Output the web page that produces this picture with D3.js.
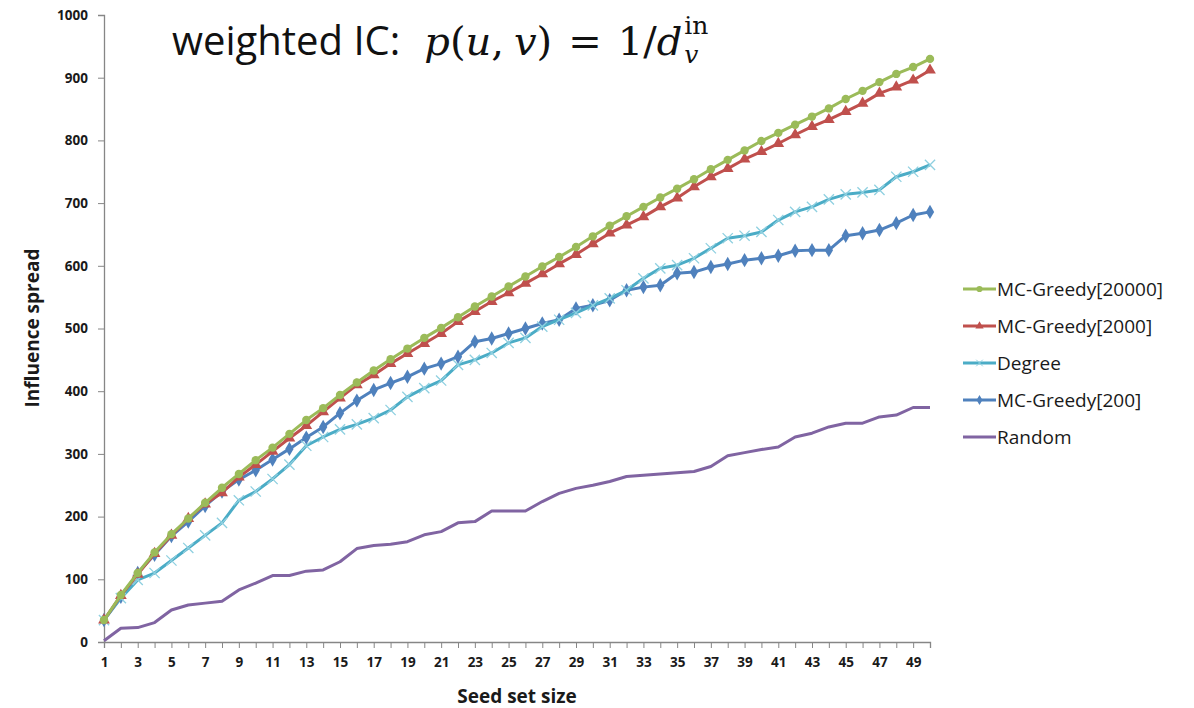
<!DOCTYPE html>
<html>
<head>
<meta charset="utf-8">
<script src="https://cdn.jsdelivr.net/npm/d3@7"></script>
<style>
  body { margin: 0; background: #fff; }
  .tick text { font-family: "Open Sans", sans-serif; font-weight: bold; font-size: 13.5px; fill: #1a1a1a; }
  .domain, .tick line { stroke: #868686; }
</style>
</head>
<body>
<script>
// values
const seeds = d3.range(1, 51);
const greedy20000 = [35, 75, 110, 143, 172, 197, 222, 246, 268, 290, 310, 332, 354, 373, 394, 414, 433, 451, 468, 485,
  501, 518, 535, 551, 567, 583, 599, 614, 630, 647, 664, 679, 694, 709, 723, 738, 754, 769, 784, 799,
  812, 825, 838, 851, 866, 879, 893, 906, 917, 930];
const greedy2000 = [35, 74, 108, 141, 170, 197, 220, 238, 263, 283, 304, 325, 345, 367, 389, 410, 426, 444, 460, 476,
  492, 511, 527, 543, 557, 572, 587, 603, 618, 635, 652, 665, 678, 694, 708, 726, 742, 755, 770, 782,
  795, 809, 822, 833, 846, 859, 875, 885, 896, 912];
const degree = [35, 70, 99, 110, 130, 150, 170, 190, 226, 240, 260, 283, 313, 327, 339, 347, 357, 370, 391, 405,
  417, 442, 450, 461, 477, 485, 503, 514, 525, 537, 548, 561, 580, 596, 601, 612, 628, 644, 648, 654,
  673, 686, 694, 706, 714, 717, 721, 742, 750, 761];
const greedy200 = [35, 72, 110, 139, 169, 192, 217, 240, 259, 274, 291, 308, 326, 343, 365, 385, 402, 413, 423, 436,
  444, 455, 479, 484, 492, 500, 508, 514, 532, 537, 545, 561, 566, 569, 588, 590, 598, 603, 609, 612,
  616, 624, 625, 625, 648, 652, 657, 668, 681, 686];
const random = [2, 22, 23, 31, 51, 59, 62, 65, 83, 94, 106, 106, 113, 115, 128, 149, 154, 156, 160, 171,
  176, 190, 192, 209, 209, 209, 224, 237, 245, 250, 256, 264, 266, 268, 270, 272, 280, 297, 302, 307,
  311, 327, 333, 343, 349, 349, 359, 362, 374, 374];
const yTicks = d3.range(0, 1001, 100);

const series = [
  { name: 'MC-Greedy[20000]', values: greedy20000, color: '#9bbb59', marker: 'circle' },
  { name: 'MC-Greedy[2000]', values: greedy2000, color: '#c0504d', marker: 'triangle' },
  { name: 'Degree', values: degree, color: '#4bacc6', marker: 'cross' },
  { name: 'MC-Greedy[200]', values: greedy200, color: '#4f81bd', marker: 'diamond' },
  { name: 'Random', values: random, color: '#8064a2', marker: null }
];

const W = 1194, H = 708;
const plot = { left: 104, right: 930, top: 15, bottom: 642 };

const svg = d3.select('body').append('svg')
  .attr('width', W)
  .attr('height', H);

const x = d3.scaleLinear().domain([1, 50]).range([plot.left, plot.right]);
const y = d3.scaleLinear().domain([0, 1000]).range([plot.bottom, plot.top]);

// axes
svg.append('g')
  .attr('transform', `translate(0,${plot.bottom})`)
  .call(d3.axisBottom(x).tickValues(seeds).tickSize(6).tickPadding(9)
    .tickFormat(d => d % 2 === 1 ? d : ''));

svg.append('g')
  .attr('transform', `translate(${plot.left},0)`)
  .call(d3.axisLeft(y).tickValues(yTicks).tickSize(6).tickPadding(10).tickFormat(d3.format('d')));

svg.selectAll('.domain').attr('stroke-width', 1.3);

// axis titles
svg.append('text')
  .attr('x', 517).attr('y', 703)
  .attr('text-anchor', 'middle')
  .style('font-family', '"Open Sans", sans-serif')
  .style('font-weight', 'bold').style('font-size', '19px').style('fill', '#1a1a1a')
  .text('Seed set size');

svg.append('text')
  .attr('transform', 'translate(39,328) rotate(-90)')
  .attr('text-anchor', 'middle')
  .style('font-family', '"Open Sans", sans-serif')
  .style('font-weight', 'bold').style('font-size', '19px').style('fill', '#1a1a1a')
  .text('Influence spread');

// lines
const line = d3.line().x((d, i) => x(seeds[i])).y(d => y(d));

const symbolType = { circle: d3.symbolCircle, triangle: d3.symbolTriangle, diamond: d3.symbolDiamond, cross: d3.symbolX };
const symbolSize = { circle: 55, triangle: 60, diamond: 60, cross: 70 };

// draw bottom-most first so the top series sit on top as in the reference
series.slice().reverse().forEach(s => {
  const g = svg.append('g');
  g.append('path')
    .datum(s.values)
    .attr('fill', 'none')
    .attr('stroke', s.color)
    .attr('stroke-width', 3)
    .attr('stroke-linejoin', 'round')
    .attr('d', line);
  if (s.marker) {
    g.selectAll('path.mk')
      .data(s.values)
      .join('path')
      .attr('class', 'mk')
      .attr('transform', (d, i) => `translate(${x(seeds[i])},${y(d)})`)
      .attr('d', d3.symbol().type(symbolType[s.marker]).size(symbolSize[s.marker]))
      .attr('fill', s.marker === 'cross' ? 'none' : s.color)
      .attr('stroke', s.marker === 'cross' ? '#8fd0e0' : 'none')
      .attr('stroke-width', 1.3);
  }
});

// legend
const legend = svg.append('g');
series.forEach((s, i) => {
  const ly = 289 + i * 37;
  legend.append('line')
    .attr('x1', 963).attr('x2', 996)
    .attr('y1', ly).attr('y2', ly)
    .attr('stroke', s.color).attr('stroke-width', 3);
  if (s.marker) {
    legend.append('path')
      .attr('transform', `translate(979.5,${ly})`)
      .attr('d', d3.symbol().type(symbolType[s.marker]).size(30))
      .attr('fill', s.marker === 'cross' ? 'none' : s.color)
      .attr('stroke', s.marker === 'cross' ? '#8fd0e0' : 'none');
  }
  legend.append('text')
    .attr('x', 997).attr('y', ly)
    .attr('dy', '0.35em')
    .style('font-family', '"Open Sans", sans-serif')
    .style('font-size', '19px').style('fill', '#1a1a1a')
    .text(s.name);
});

// title: weighted IC: p(u, v) = 1/d_v^in  (one text element)
const serif = '"DejaVu Serif", "Liberation Serif", serif';
const title = svg.append('text')
  .attr('x', 172).attr('y', 55)
  .style('font-size', '40px').style('fill', '#111');
title.append('tspan').style('font-family', '"Open Sans", sans-serif').text('weighted IC:');
const math = [
  ['p', true, 24], ['(', false, 0], ['u', true, 0], [',', false, 0], ['v', true, 10], [')', false, 0],
  ['=', false, 16], ['1/', false, 16], ['d', true, 0]
];
math.forEach(([txt, it, dx]) => {
  title.append('tspan')
    .attr('dx', dx)
    .style('font-family', serif)
    .style('font-style', it ? 'italic' : 'normal')
    .text(txt);
});
const sup = title.append('tspan')
  .attr('dx', 2).attr('dy', -21)
  .style('font-family', serif).style('font-size', '25px')
  .text('in');
const supW = sup.node().getComputedTextLength();
title.append('tspan')
  .attr('dx', -supW).attr('dy', 29)
  .style('font-family', serif).style('font-size', '25px').style('font-style', 'italic')
  .text('v');
</script>
</body>
</html>
